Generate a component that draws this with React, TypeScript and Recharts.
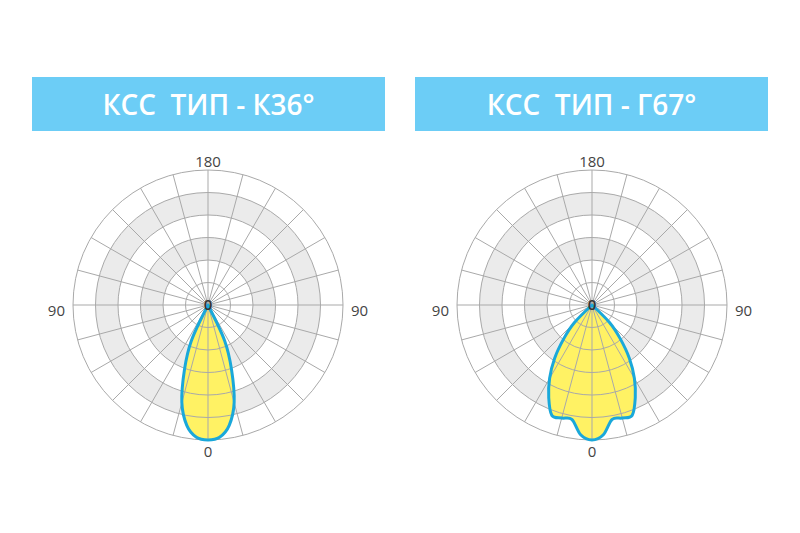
import { RadarChart, Radar, PolarGrid, PolarAngleAxis, PolarRadiusAxis } from 'recharts'

// Light intensity profiles, one side of the symmetric curve,
// read every 5° starting from the nadir (0°). Angles not listed are 0.
const k36Profile = [6.0, 5.9, 5.43, 4.49, 3.06, 1.75, 0]
const g67Profile = [6.0, 5.79, 5.16, 5.2, 5.22, 4.55, 3.77, 2.9, 1.95, 1.1, 0]

const angleStep = 5
const angles = Array.from({ length: 360 / angleStep }, (_, i) => i * angleStep)

const ringTicks = [0, 1, 2, 3, 4, 5, 6]
// outer edge of each filled disc, drawn large to small so they form bands
const discLevels = [5, 4, 3, 2]
const discFills = ['#ebebeb', '#ffffff', '#ebebeb', '#ffffff']
const spokeAngles = Array.from({ length: 24 }, (_, i) => i * 15)

const sideLabels: Record<number, string> = { 0: '0', 90: '90', 180: '180', 270: '90' }

const titles = ['КСС  ТИП - К36°', 'КСС  ТИП - Г67°']

const FONT = '"Open Sans", sans-serif'
const GRID = '#a9a9a9'
const LOBE_FILL = '#fff264'
const LOBE_STROKE = '#1aa8da'

function profileAt(profile: number[], angle: number) {
  const a = angle > 180 ? 360 - angle : angle
  return profile[a / angleStep] ?? 0
}

const chartData = angles.map((angle) => {
  const row: Record<string, number> = {
    angle,
    k36: profileAt(k36Profile, angle),
    g67: profileAt(g67Profile, angle),
  }
  discLevels.forEach((lvl) => {
    row[`disc${lvl}`] = lvl
  })
  return row
})

type Pt = { x: number; y: number; radius?: number }

// closed Catmull-Rom path through the radar points; points sitting on the
// pole keep a sharp corner so the lobe meets the centre in a point
function smoothClosed(pts: Pt[]) {
  const n = pts.length
  const onPole = (p: Pt) => (p.radius ?? 1) < 0.5
  let d = `M${pts[0].x},${pts[0].y}`
  for (let i = 0; i < n; i++) {
    const p0 = pts[(i - 1 + n) % n]
    const p1 = pts[i]
    const p2 = pts[(i + 1) % n]
    const p3 = pts[(i + 2) % n]
    const t1 = onPole(p1) ? { x: 0, y: 0 } : { x: (p2.x - p0.x) / 6, y: (p2.y - p0.y) / 6 }
    const t2 = onPole(p2) ? { x: 0, y: 0 } : { x: (p3.x - p1.x) / 6, y: (p3.y - p1.y) / 6 }
    d += ` C${p1.x + t1.x},${p1.y + t1.y} ${p2.x - t2.x},${p2.y - t2.y} ${p2.x},${p2.y}`
  }
  return d + ' Z'
}

function lobeShape(fill: string, stroke: string, strokeWidth: number) {
  return (props: any) => (
    <path
      d={smoothClosed(props.points)}
      fill={fill}
      stroke={stroke}
      strokeWidth={strokeWidth}
      strokeLinejoin="round"
    />
  )
}

function AngleTick(props: any) {
  const { x, y, payload } = props
  const label = sideLabels[payload.value]
  if (label === undefined) return <g />
  let anchor = 'middle'
  let dy = -1
  if (payload.value === 90) {
    anchor = 'end'
    dy = 5
  } else if (payload.value === 270) {
    anchor = 'start'
    dy = 5
  } else if (payload.value === 0) {
    dy = 3
  }
  return (
    <text
      x={x}
      y={y + dy}
      textAnchor={anchor}
      dominantBaseline="central"
      fontFamily={FONT}
      fontSize={15}
      fill="#444"
    >
      {label}
    </text>
  )
}

function PoleTick(props: any) {
  const { x, y, payload } = props
  if (payload.value !== 0) return <g />
  return (
    <text
      x={x}
      y={y - 1}
      textAnchor="middle"
      dominantBaseline="central"
      fontFamily={FONT}
      fontSize={15}
      fontWeight={600}
      fill="#333"
    >
      0
    </text>
  )
}

function PolarPanel({ dataKey, cx }: { dataKey: string; cx: number }) {
  return (
    <RadarChart
      width={400}
      height={533}
      data={chartData}
      cx={cx}
      cy={305}
      outerRadius={135}
      startAngle={-90}
      endAngle={-450}
      margin={{ top: 0, right: 0, bottom: 0, left: 0 }}
    >
      {discLevels.map((lvl, i) => (
        <Radar
          key={lvl}
          dataKey={`disc${lvl}`}
          stroke="none"
          fill={discFills[i]}
          fillOpacity={1}
          dot={false}
          zIndex={-400 + i * 10}
          isAnimationActive={false}
        />
      ))}
      <Radar
        dataKey={dataKey}
        stroke="none"
        fill={LOBE_FILL}
        fillOpacity={1}
        dot={false}
        shape={lobeShape(LOBE_FILL, 'none', 0)}
        zIndex={-200}
        isAnimationActive={false}
      />
      <PolarGrid
        gridType="circle"
        polarAngles={spokeAngles}
        stroke={GRID}
        strokeWidth={1}
        zIndex={-100}
      />
      <PolarAngleAxis
        dataKey="angle"
        type="category"
        axisLine={false}
        tickLine={false}
        tick={<AngleTick />}
      />
      <Radar
        dataKey={dataKey}
        stroke={LOBE_STROKE}
        fill="none"
        dot={false}
        shape={lobeShape('none', LOBE_STROKE, 3)}
        zIndex={100}
        isAnimationActive={false}
      />
      <PolarRadiusAxis
        domain={[0, 6]}
        tickCount={ringTicks.length}
        axisLine={false}
        tickLine={false}
        tick={<PoleTick />}
        zIndex={600}
      />
    </RadarChart>
  )
}

export default function App() {
  return (
    <div
      style={{
        position: 'absolute',
        left: 0,
        top: 0,
        width: 800,
        height: 533,
        background: '#fff',
        fontFamily: FONT,
      }}
    >
      {titles.map((t, i) => (
        <div
          key={t}
          style={{
            position: 'absolute',
            left: i === 0 ? 32 : 415,
            top: 77,
            width: 353,
            height: 54,
            background: '#6ccdf6',
            color: '#fff',
            fontSize: 28,
            fontWeight: 600,
            display: 'flex',
            alignItems: 'center',
            justifyContent: 'center',
            whiteSpace: 'pre',
          }}
        >
          {t}
        </div>
      ))}
      <div style={{ position: 'absolute', left: 0, top: 0 }}>
        <PolarPanel dataKey="k36" cx={208} />
      </div>
      <div style={{ position: 'absolute', left: 400, top: 0 }}>
        <PolarPanel dataKey="g67" cx={192} />
      </div>
    </div>
  )
}
